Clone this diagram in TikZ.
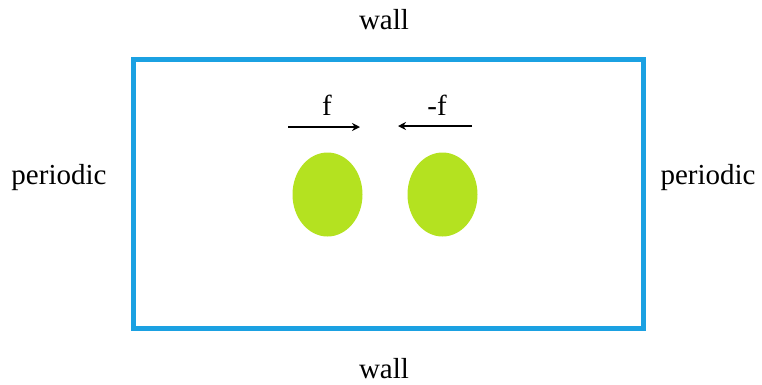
\documentclass[tikz,border=0pt]{standalone}
\usepackage{fontspec}
\setmainfont{Liberation Serif}
\usetikzlibrary{arrows.meta}
\definecolor{wallblue}{RGB}{27,161,226}
\definecolor{ballgreen}{RGB}{180,226,32}
\begin{document}
\begin{tikzpicture}[x=1pt,y=-1pt,
  lbl/.style={font=\fontsize{29}{31}\selectfont, inner sep=0pt},
  force/.style={line width=2.6pt, -{Stealth[length=8pt,width=8pt]}}]
\useasboundingbox (0,0) rectangle (762,384);
\draw[wallblue, line width=5pt] (133.5,59) rectangle (643.5,328.5);
\node[lbl] (wtop) at (384,20) {wall};
\node[lbl] (wbot) at (384,369) {wall};
\node[lbl] (pl) at (59,178) {periodic};
\node[lbl] (pr) at (708,178) {periodic};
\node[lbl, anchor=base] (f1) at (327,115) {f};
\node[lbl, anchor=base] (f2) at (437,115) {-f};
\path[fill=ballgreen] (327.5,194.5) ellipse [x radius=35, y radius=42];
\path[fill=ballgreen] (442.5,194.5) ellipse [x radius=35, y radius=42];
\coordinate (a1s) at (288,127);
\coordinate (a1e) at (360,127);
\coordinate (a2s) at (472,126);
\coordinate (a2e) at (398,126);
\draw[force] (a1s) -- (a1e);
\draw[force] (a2s) -- (a2e);
\end{tikzpicture}
\end{document}
